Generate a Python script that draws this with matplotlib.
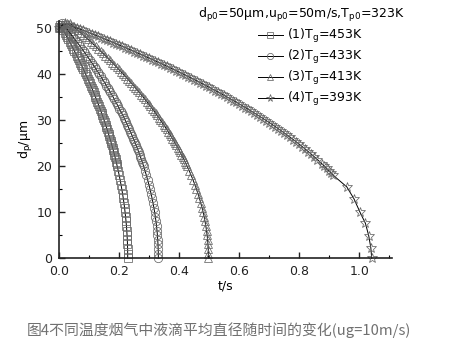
import matplotlib
matplotlib.use('Agg')
import numpy as np
import matplotlib.pyplot as plt
from matplotlib.ticker import MultipleLocator, FormatStrFormatter

# 读图估计的数据: 时间 t (s), 液滴直径 d_p (um)
# 每条曲线分两组点 (主点 + 上半段的加密点), 绘图时按时间合并
t1 = [0.0, 0.004, 0.0088, 0.0175, 0.0260, 0.0344, 0.0425, 0.0505, 0.0583, 0.0659,
      0.0734, 0.0806, 0.0877, 0.0947, 0.1014, 0.1080, 0.1144, 0.1206, 0.1267, 0.1325,
      0.1382, 0.1438, 0.1491, 0.1543, 0.1593, 0.1641, 0.1687, 0.1732, 0.1775, 0.1816,
      0.1856, 0.1893, 0.1929, 0.1964, 0.1996, 0.2027, 0.2056, 0.2083, 0.2108, 0.2132,
      0.2154, 0.2174, 0.2192, 0.2209, 0.2224, 0.2237, 0.2249, 0.2258, 0.2266, 0.2272,
      0.2277, 0.2279, 0.2280]
d1 = [50.2, 50.6, 50, 49, 48, 47, 46, 45, 44, 43,
      42, 41, 40, 39, 38, 37, 36, 35, 34, 33,
      32, 31, 30, 29, 28, 27, 26, 25, 24, 23,
      22, 21, 20, 19, 18, 17, 16, 15, 14, 13,
      12, 11, 10, 9, 8, 7, 6, 5, 4, 3,
      2, 1, 0]
t1b = [0.0132, 0.0218, 0.0302, 0.0385, 0.0465, 0.0544, 0.0621, 0.0697, 0.0770, 0.0842,
       0.0912, 0.0981, 0.1047, 0.1112, 0.1175, 0.1237, 0.1296, 0.1354, 0.1410, 0.1465,
       0.1517, 0.1568, 0.1617, 0.1664, 0.1710, 0.1754, 0.1796, 0.1836, 0.1875, 0.1912]
d1b = [49.5, 48.5, 47.5, 46.5, 45.5, 44.5, 43.5, 42.5, 41.5, 40.5,
       39.5, 38.5, 37.5, 36.5, 35.5, 34.5, 33.5, 32.5, 31.5, 30.5,
       29.5, 28.5, 27.5, 26.5, 25.5, 24.5, 23.5, 22.5, 21.5, 20.5]

t2 = [0.0, 0.005, 0.010, 0.0224, 0.0346, 0.0465, 0.0582, 0.0697, 0.0809, 0.0918,
      0.1025, 0.1130, 0.1232, 0.1331, 0.1429, 0.1523, 0.1616, 0.1705, 0.1793, 0.1878,
      0.1960, 0.2040, 0.2118, 0.2193, 0.2265, 0.2336, 0.2403, 0.2468, 0.2531, 0.2591,
      0.2649, 0.2704, 0.2757, 0.2808, 0.2856, 0.2901, 0.2944, 0.2985, 0.3023, 0.3059,
      0.3092, 0.3123, 0.3151, 0.3177, 0.3200, 0.3221, 0.3240, 0.3256, 0.3269, 0.3280,
      0.3289, 0.3295, 0.3299, 0.3300]
d2 = [50.0, 50.6, 51.0, 50, 49, 48, 47, 46, 45, 44,
      43, 42, 41, 40, 39, 38, 37, 36, 35, 34,
      33, 32, 31, 30, 29, 28, 27, 26, 25, 24,
      23, 22, 21, 20, 19, 18, 17, 16, 15, 14,
      13, 12, 11, 10, 9, 8, 7, 6, 5, 4,
      3, 2, 1, 0]
t2b = [0.0285, 0.0406, 0.0524, 0.0640, 0.0753, 0.0864, 0.0972, 0.1078, 0.1181, 0.1282,
       0.1380, 0.1476, 0.1570, 0.1661, 0.1750, 0.1836, 0.1919, 0.2001, 0.2079, 0.2156,
       0.2229, 0.2301, 0.2370, 0.2436, 0.2500, 0.2562, 0.2621, 0.2677, 0.2731, 0.2783]
d2b = d1b

t3 = [0.0, 0.009, 0.018, 0.027, 0.036, 0.044, 0.0529, 0.0705, 0.0878, 0.1046,
      0.1212, 0.1373, 0.1531, 0.1686, 0.1837, 0.1984, 0.2128, 0.2268, 0.2405, 0.2538,
      0.2668, 0.2794, 0.2917, 0.3036, 0.3151, 0.3263, 0.3371, 0.3476, 0.3578, 0.3675,
      0.3769, 0.3860, 0.3947, 0.4030, 0.4110, 0.4186, 0.4259, 0.4329, 0.4394, 0.4457,
      0.4515, 0.4570, 0.4622, 0.4670, 0.4714, 0.4755, 0.4793, 0.4826, 0.4856, 0.4883,
      0.4906, 0.4926, 0.4941, 0.4954, 0.4963, 0.4968, 0.4970]
d3 = [50.0, 50.5, 50.8, 51.0, 51.0, 50.5, 50, 49, 48, 47,
      46, 45, 44, 43, 42, 41, 40, 39, 38, 37,
      36, 35, 34, 33, 32, 31, 30, 29, 28, 27,
      26, 25, 24, 23, 22, 21, 20, 19, 18, 17,
      16, 15, 14, 13, 12, 11, 10, 9, 8, 7,
      6, 5, 4, 3, 2, 1, 0]
t3b = [0.0618, 0.0792, 0.0962, 0.1129, 0.1293, 0.1453, 0.1609, 0.1762, 0.1911, 0.2057,
       0.2199, 0.2337, 0.2472, 0.2604, 0.2732, 0.2856, 0.2977, 0.3094, 0.3208, 0.3318,
       0.3424, 0.3527, 0.3627, 0.3723, 0.3815, 0.3904, 0.3989, 0.4071, 0.4149, 0.4224]
d3b = d1b

t4 = [0.0, 0.01, 0.02, 0.04, 0.06, 0.08, 0.10, 0.12, 0.14, 0.16,
      0.18, 0.20, 0.22, 0.24, 0.26, 0.28, 0.30, 0.32, 0.34, 0.36,
      0.38, 0.40, 0.42, 0.44, 0.46, 0.48, 0.50, 0.52, 0.54, 0.56,
      0.58, 0.60, 0.62, 0.64, 0.66, 0.68, 0.70, 0.72, 0.74, 0.76,
      0.78, 0.80, 0.82, 0.84, 0.86, 0.8831, 0.8984, 0.913, 0.958, 0.982,
      1.002, 1.020, 1.031, 1.038, 1.041]
d4 = [50.0, 50.6, 51.0, 50.50, 49.99, 49.48, 48.96, 48.44, 47.91, 47.37,
      46.83, 46.28, 45.73, 45.17, 44.60, 44.02, 43.44, 42.85, 42.25, 41.64,
      41.03, 40.40, 39.76, 39.11, 38.46, 37.79, 37.11, 36.41, 35.71, 34.99,
      34.25, 33.50, 32.73, 31.94, 31.13, 30.30, 29.45, 28.57, 27.66, 26.72,
      25.75, 24.74, 23.69, 22.58, 21.43, 20, 19, 18.0, 15.5, 12.9,
      10.0, 7.6, 4.9, 2.3, 0.0]
t4b = [0.03, 0.05, 0.07, 0.09, 0.11, 0.13, 0.15, 0.17, 0.19, 0.21,
       0.23, 0.25, 0.27, 0.29, 0.31, 0.33, 0.35, 0.37, 0.39, 0.41,
       0.43, 0.45, 0.47, 0.49, 0.51, 0.53, 0.55, 0.57, 0.59, 0.61,
       0.63, 0.65, 0.67, 0.69, 0.71, 0.73, 0.75, 0.77, 0.79, 0.81,
       0.83, 0.85, 0.8752, 0.8909, 0.9058]
d4b = [50.75, 50.24, 49.73, 49.22, 48.70, 48.17, 47.64, 47.10, 46.56, 46.00,
       45.45, 44.88, 44.31, 43.73, 43.15, 42.55, 41.95, 41.33, 40.71, 40.08,
       39.44, 38.79, 38.12, 37.45, 36.76, 36.06, 35.35, 34.62, 33.88, 33.11,
       32.34, 31.54, 30.71, 29.87, 29.01, 28.11, 27.19, 26.24, 25.25, 24.22,
       23.14, 22.01, 20.5, 19.5, 18.5]

labels = [r'(1)T$_{\rm g}$=453K', r'(2)T$_{\rm g}$=433K',
          r'(3)T$_{\rm g}$=413K', r'(4)T$_{\rm g}$=393K']
markers = ['s', 'o', '^', '*']
msizes = [5.5, 6, 6, 7.5]

plt.rcParams['font.family'] = ['DejaVu Sans']
plt.rcParams['mathtext.fontset'] = 'dejavusans'

fig = plt.figure(figsize=(4.64, 3.53), dpi=100)
ax = fig.add_axes([0.1278, 0.2683, 0.716, 0.672])

curves = [(t1, d1, t1b, d1b), (t2, d2, t2b, d2b), (t3, d3, t3b, d3b), (t4, d4, t4b, d4b)]
for (ta, da, tb, db), m, ms, lab in zip(curves, markers, msizes, labels):
    t = np.concatenate([ta, tb])
    d = np.concatenate([da, db])
    idx = np.argsort(t, kind='stable')
    ax.plot(t[idx], d[idx], color='k', lw=0.7, marker=m, ms=ms, mfc='none',
            mec='#666666', mew=0.55, clip_on=False, label=lab)

ax.set_xlim(0, 1.107)
ax.set_ylim(0, 51.5)
for s in ['top', 'right']:
    ax.spines[s].set_visible(False)
for s in ['left', 'bottom']:
    ax.spines[s].set_linewidth(1.2)
    ax.spines[s].set_color('#222222')

ax.xaxis.set_major_locator(MultipleLocator(0.2))
ax.xaxis.set_minor_locator(MultipleLocator(0.1))
ax.xaxis.set_major_formatter(FormatStrFormatter('%.1f'))
ax.yaxis.set_major_locator(MultipleLocator(10))
ax.yaxis.set_minor_locator(MultipleLocator(5))
ax.tick_params(which='major', direction='in', length=4, width=1, labelsize=9,
               colors='#222222')
ax.tick_params(which='minor', direction='in', length=2.5, width=0.8)
ax.tick_params(axis='x', pad=5)
ax.tick_params(axis='y', pad=5)

ax.set_xlabel('t/s', fontsize=9, labelpad=1)
ax.set_ylabel(r'd$_{\rm p}$/μm', fontsize=9, labelpad=1)

fig.text(198 / 464, 1 - 15 / 353,
         r'd$_{\rm p0}$=50μm,u$_{\rm p0}$=50m/s,T$_{\rm p0}$=323K',
         fontsize=9, ha='left', va='center')
ax.legend(loc='upper left', bbox_to_anchor=(258 / 464, 1 - 27 / 353),
          bbox_transform=fig.transFigure, frameon=False, fontsize=9,
          handlelength=2.0, handletextpad=0.3, labelspacing=0.25,
          borderpad=0, borderaxespad=0, markerscale=0.75)

fig.text(27 / 464, 1 - 330 / 353, '图4不同温度烟气中液滴平均直径随时间的变化(ug=10m/s)',
         fontsize=10.7, color='#707070', ha='left', va='center',
         family=['Noto Sans CJK SC', 'DejaVu Sans'])

fig.savefig('out.png', dpi=100)
